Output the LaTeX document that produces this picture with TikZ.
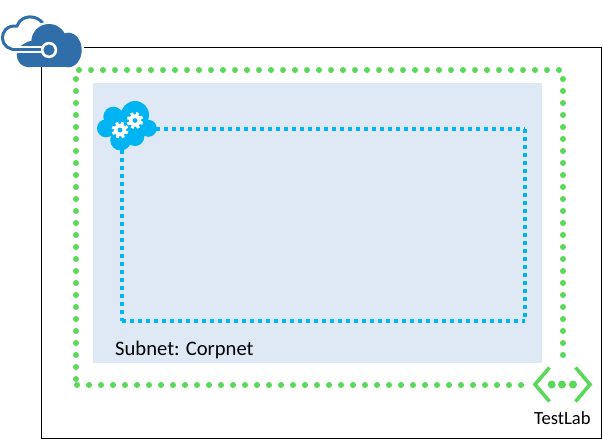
\documentclass[tikz,border=0pt]{standalone}
\usepackage{fontspec}
\setmainfont{Carlito}
\definecolor{gdot}{HTML}{5AD85A}
\definecolor{subfill}{HTML}{DEE9F5}
\definecolor{cyanb}{HTML}{00B4F1}
\definecolor{azureb}{HTML}{2F6EA8}
\tikzset{
  greendots/.style={draw=gdot,line width=6pt,line cap=round,dash pattern=on 0pt off 12pt},
  bluedots/.style={draw=cyanb,line width=4pt,dash pattern=on 4pt off 4pt},
  subnetlabel/.style={font=\fontsize{20.6pt}{22pt}\selectfont,inner sep=0pt,anchor=base west,text=black},
  tllabel/.style={font=\fontsize{18.6pt}{20pt}\selectfont,inner sep=0pt,anchor=base west,text=black}
}
\begin{document}
\begin{tikzpicture}[x=1pt,y=-1pt]
\useasboundingbox (0,0) rectangle (603,442);
\fill[white] (0,0) rectangle (603,442);
% outer frame
\draw[black,line width=1pt] (41.5,47.5) rectangle (601.5,438.5);
% subnet
\fill[subfill] (93,83) rectangle (542,363);
% green dotted rectangle
\coordinate (g1) at (79,70);
\coordinate (g2) at (563,70);
\coordinate (g3) at (76,79);
\coordinate (g4) at (76,385);
\coordinate (g5) at (77,385);
\coordinate (g6) at (530,385);
\coordinate (g7) at (563,79);
\coordinate (g8) at (563,360);
\draw[greendots] (g1) -- (g2);
\draw[greendots] (g3) -- (g4);
\draw[greendots] (g5) -- (g6);
\draw[greendots] (g7) -- (g8);
% blue dotted route
\coordinate (b1) at (156,129);
\coordinate (b2) at (525,129);
\coordinate (b3) at (525,321);
\coordinate (b4) at (122,321);
\coordinate (b5) at (122,150);
\draw[bluedots] (b1) -- (b2);
\draw[bluedots] (b2) -- (b3);
\draw[bluedots] (b4) -- (b3);
\draw[bluedots] (b5) -- (b4);
% gear cloud
\foreach \cx/\cy/\rr in {113.3/116.7/10,135/115/14,106/128.3/9,120.7/140/10.5,135/136.7/9.3,148.3/128.3/8.5,125/127/17}{
  \fill[cyanb] (\cx,\cy) circle (\rr);
}
\foreach \cx/\cy in {120/130,135/120.5}{
  \fill[white] (\cx,\cy) circle (6.2);
  \foreach \a in {0,45,...,315}{
    \draw[white,line width=3pt] (\cx,\cy) -- ++(\a+20:8.3);
  }
  \fill[cyanb] (\cx,\cy) circle (2.4);
}
% azure icon: outline cloud
\draw[azureb,line width=3pt,line cap=round] (43,23.5)
  .. controls (38,15.5) and (22,13) .. (17,26)
  .. controls (6,25) and (2,33) .. (2.5,38)
  .. controls (3,46) and (9,50) .. (17,49.5) -- (50,49.5);
% azure icon: filled cloud
\foreach \cx/\cy/\rr in {49/41.7/20,29/55/15,30/48/9}{
  \fill[white] (\cx,\cy) circle (\rr);
}
\fill[white] (68.3,50) ellipse (16 and 20);
\foreach \cx/\cy/\rr in {49/41.7/17.7,29/55/12.3,31/50/9}{
  \fill[azureb] (\cx,\cy) circle (\rr);
}
\fill[azureb] (68.3,50) ellipse (13.4 and 17.3);
\fill[azureb] (29,48) rectangle (68.3,67.3);
\draw[white,line width=7pt] (12,49.5) -- (44,49.5);
\draw[azureb,line width=3pt] (12,49.5) -- (44,49.5);
\fill[white] (49,50) circle (8.2);
\fill[azureb] (49,50) circle (5.6);
% testlab icon
\coordinate (t1) at (549.5,367.5);
\coordinate (t2) at (535,384.5);
\coordinate (t3) at (549.5,401.5);
\coordinate (t4) at (575.5,367.5);
\coordinate (t5) at (590,384.5);
\coordinate (t6) at (575.5,401.5);
\draw[gdot,line width=3.6pt,miter limit=10] (t1) -- (t2) -- (t3);
\draw[gdot,line width=3.6pt,miter limit=10] (t4) -- (t5) -- (t6);
\foreach \cx in {551.7,562,573}{
  \fill[gdot] (\cx,384.5) circle (4);
}
% labels
\node[subnetlabel] (subnet) at (115,355) {Subnet: Corpnet};
\node[tllabel] (testlab) at (534,424.5) {TestLab};
\end{tikzpicture}
\end{document}
